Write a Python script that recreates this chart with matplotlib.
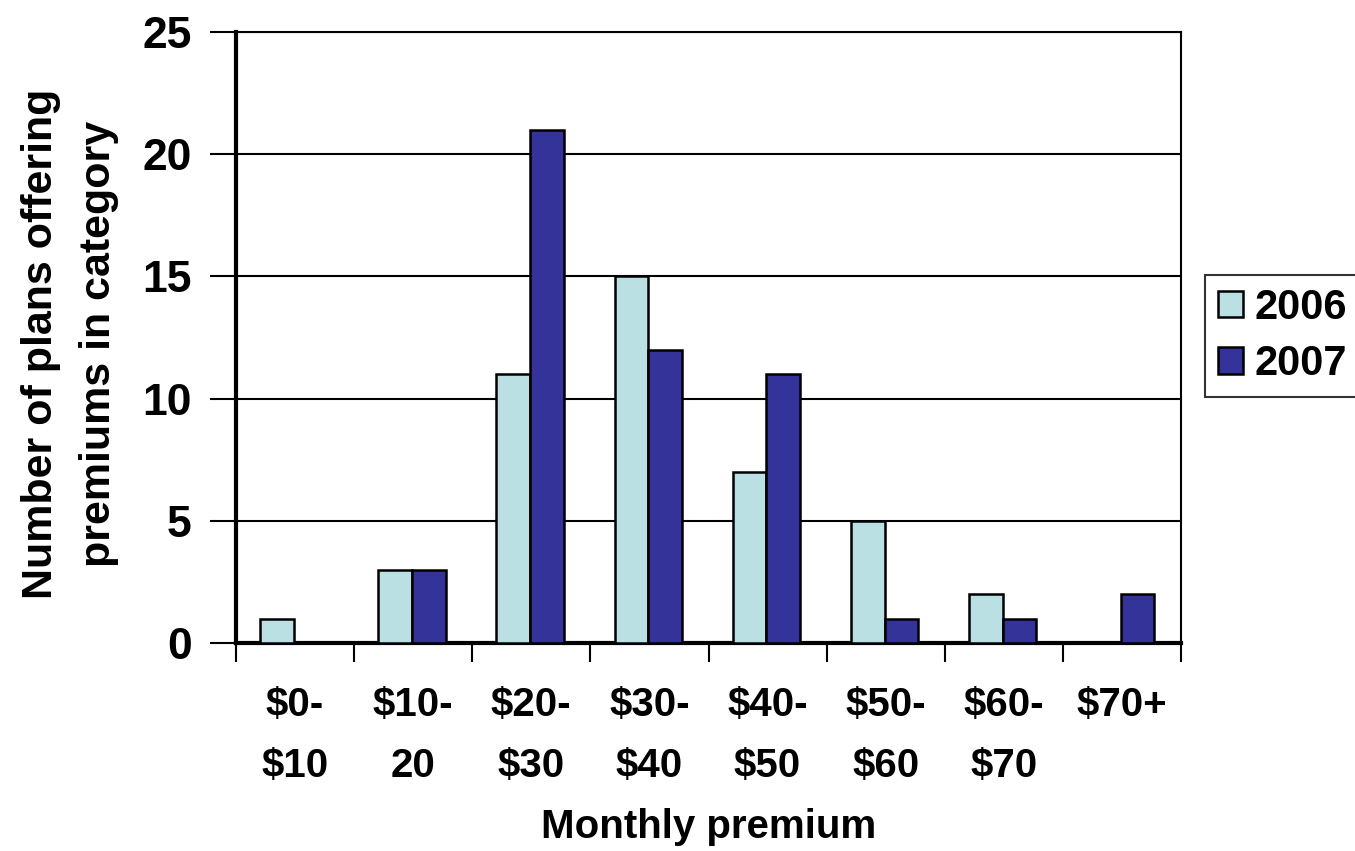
import matplotlib.pyplot as plt
import numpy as np

categories = ['$0-\n$10', '$10-\n20', '$20-\n$30', '$30-\n$40',
              '$40-\n$50', '$50-\n$60', '$60-\n$70', '$70+\n']
plans_2006 = [1, 3, 11, 15, 7, 5, 2, 0]
plans_2007 = [0, 3, 21, 12, 11, 1, 1, 2]

plt.rcParams['font.family'] = ['Liberation Sans', 'DejaVu Sans']
plt.rcParams['font.weight'] = 'bold'

fig = plt.figure(figsize=(13.55, 8.51), dpi=100)
ax = fig.add_axes([236 / 1355, 1 - 643 / 851, (1181 - 236) / 1355, (643 - 32) / 851])

x = np.arange(len(categories)) + 0.49
w = 0.285
ax.bar(x - w / 2, plans_2006, w, color='#BBE0E3', edgecolor='black', linewidth=1.8, label='2006', zorder=3)
ax.bar(x + w / 2, plans_2007, w, color='#333399', edgecolor='black', linewidth=1.8, label='2007', zorder=3)

ax.set_xlim(0, len(categories))
ax.set_ylim(0, 25)
ax.set_yticks(range(0, 26, 5))
ax.yaxis.grid(True, color='black', linewidth=1.5, zorder=0)
ax.tick_params(axis='y', direction='out', length=19, width=1.5, pad=13, labelsize=32)

# category boundaries get the tick marks, labels sit in the middle
ax.set_xticks(range(len(categories) + 1))
ax.set_xticklabels([])
ax.tick_params(axis='x', which='major', direction='out', length=14, width=1.5)
ax.set_xticks(np.arange(len(categories)) + 0.5, minor=True)
ax.set_xticklabels(categories, minor=True, fontsize=29, linespacing=1.75)
ax.tick_params(axis='x', which='minor', length=0, pad=31)

for side in ['top', 'right']:
    ax.spines[side].set_linewidth(1.5)
ax.spines['left'].set_linewidth(3)
ax.spines['bottom'].set_linewidth(3)

ax.set_xlabel('Monthly premium', fontsize=29, fontweight='bold')
ax.xaxis.set_label_coords(0.5, (643 - 827) / 611)
ax.xaxis.label.set_va('center')
ax.set_ylabel('Number of plans offering\npremiums in category', fontsize=31,
              fontweight='bold', linespacing=1.6)
ax.yaxis.set_label_coords((70 - 236) / 945, 0.49)
ax.yaxis.label.set_va('center')

leg = ax.legend(loc='center left', bbox_to_anchor=(1205 / 1355, 1 - 336 / 851),
                bbox_transform=fig.transFigure, fontsize=30, frameon=True, fancybox=False,
                edgecolor='black', handlelength=0.6, handleheight=0.6, handletextpad=0.3,
                borderpad=0.3, borderaxespad=0, labelspacing=0.4)
leg.get_frame().set_linewidth(1.5)

fig.savefig('out.png', dpi=100, facecolor='white')
